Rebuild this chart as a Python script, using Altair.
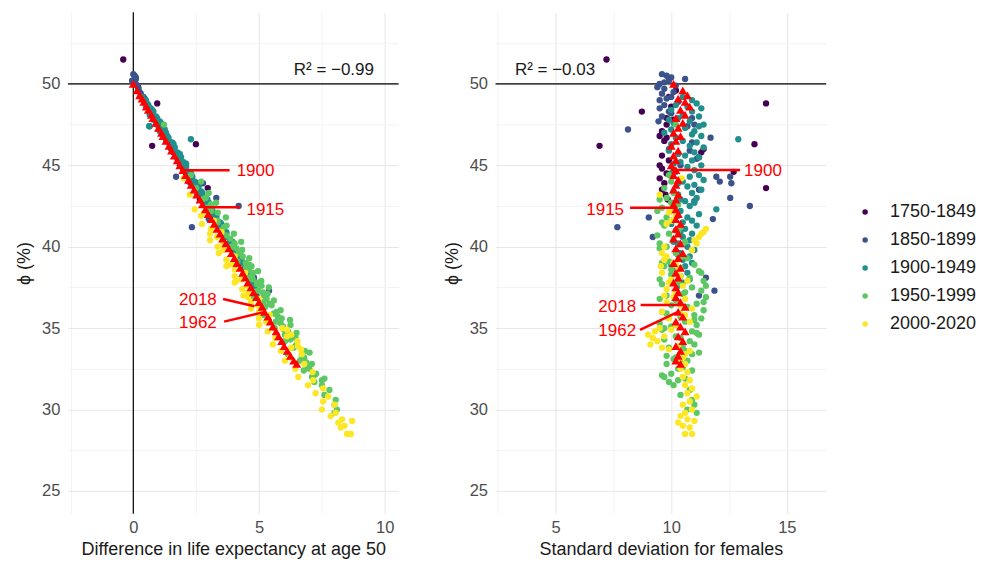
import altair as alt
import pandas as pd

periods = ["1750-1849", "1850-1899", "1900-1949", "1950-1999", "2000-2020"]
colors = ["#440154", "#3b528b", "#21908c", "#5dc863", "#fde725"]

# ---- 1750-1849 ----
p1_phi = [51.5, 48.8, 46.2, 46.3, 43.6, 48.3, 44.6, 49.6, 49.2, 48.6, 47.9, 47.5, 47.1, 46.8, 46.5,
          46.0, 45.8, 45.6, 45.3, 45.0, 44.8, 44.5, 44.2, 43.9, 43.5, 43.2, 42.9, 46.7, 45.5, 47.8]
p1_diff = [-0.4, 0.95, 0.75, 2.49, 2.96, 0.78, 2.05, 0.2, 0.35, 0.6, 0.85, 0.95, 1.15, 1.25, 1.4,
           1.55, 1.6, 1.7, 1.85, 1.9, 2.0, 2.1, 2.2, 2.3, 2.45, 2.55, 2.65, 1.3, 1.75, 0.9]
p1_sd = [7.2, 14.1, 6.9, 13.6, 14.1, 8.73, 12.7, 10.2, 9.9, 10.0, 9.8, 9.8, 9.6, 9.5, 9.7,
         11.4, 11.3, 9.6, 9.9, 9.5, 9.6, 9.8, 9.5, 9.7, 9.6, 9.75, 9.85, 9.8, 11.2, 10.1]

# ---- 1850-1899 ----
p2_phi = [50.6, 50.5, 50.4, 50.3, 50.2, 50.0, 49.9, 49.7, 49.4, 49.2, 49.0, 48.7, 48.3, 47.9, 47.5,
          47.2, 46.7, 47.4, 46.4, 45.9, 45.4, 44.3, 44.0, 44.3, 43.9, 43.0, 42.5, 41.7, 41.8, 40.6,
          41.2, 37.3, 37.0, 38.1, 45.0, 43.5, 42.8, 48.0, 46.0, 44.7, 50.1, 49.8, 49.5, 49.1, 48.9,
          48.5, 48.2, 47.7]
p2_diff = [0.0, 0.05, 0.1, 0.1, -0.05, 0.1, 0.15, 0.2, 0.3, 0.4, 0.45, 0.55, 0.7, 0.85, 1.0,
           1.1, 1.3, 0.65, 1.4, 1.6, 1.75, 1.7, 2.2, 2.3, 2.77, 3.3, 4.19, 3.0, 3.2, 3.6,
           2.33, 5.4, 4.9, 4.8, 1.85, 2.5, 2.75, 0.8, 1.5, 2.0, 0.05, 0.2, 0.25, 0.45, 0.5,
           0.6, 0.75, 0.9]
p2_sd = [9.6, 9.8, 10.0, 10.6, 9.9, 9.5, 10.2, 9.7, 9.6, 10.0, 9.5, 9.7, 9.9, 10.9, 11.0,
         8.13, 11.7, 10.7, 10.9, 10.8, 11.1, 11.95, 12.1, 12.55, 12.6, 12.55, 13.4, 11.8, 9.03, 9.2,
         7.67, 11.87, 11.2, 11.5, 10.4, 11.2, 11.0, 9.6, 9.9, 10.1, 9.7, 9.4, 10.1, 9.8, 10.3,
         9.5, 10.0, 9.45]

# ---- 1900-1949 ----
p3_phi = [49.2, 49.0, 48.8, 48.6, 48.5, 48.3, 48.1, 48.0, 47.8, 47.7, 47.5, 47.4, 47.3, 47.1, 47.0,
          46.9, 46.8, 46.6, 46.5, 46.4, 46.2, 46.1, 45.9, 45.8, 45.6, 45.5, 45.3, 45.2, 45.0, 44.9,
          44.7, 44.6, 44.4, 44.3, 44.1, 44.0, 43.8, 43.7, 43.5, 43.3, 43.2, 43.0, 42.8, 42.7, 42.5,
          42.3, 42.2, 42.0, 41.8, 41.6, 41.5, 41.3, 41.1, 41.0, 40.8, 40.6, 40.4, 40.2, 40.0, 39.8,
          39.6, 39.4, 39.2, 39.0, 38.8, 38.6, 38.4, 38.2, 38.0, 37.8, 37.6,
          48.7, 48.4, 47.9, 47.6, 47.2, 46.7, 46.3, 45.7, 45.1, 44.5, 43.9, 43.4, 42.9, 42.4, 41.9,
          41.4, 40.9, 40.3, 39.5, 38.9]
p3_diff = [0.35, 0.5, 0.55, 0.5, 0.7, 0.8, 0.65, 0.9, 0.8, 1.05, 0.95, 0.63, 1.15, 1.05, 1.3,
           1.2, 1.35, 2.29, 1.3, 1.55, 1.45, 1.65, 1.55, 1.75, 1.7, 1.9, 1.8, 2.0, 1.95, 2.1,
           2.05, 2.25, 2.2, 2.35, 2.3, 2.45, 2.4, 2.6, 2.55, 2.75, 2.65, 2.85, 2.8, 3.0, 2.95,
           3.0, 3.15, 3.1, 3.3, 3.25, 3.45, 3.4, 3.6, 3.5, 3.7, 3.65, 3.85, 3.8, 4.0, 3.95,
           4.15, 4.1, 4.3, 4.25, 4.45, 4.4, 4.6, 4.55, 4.75, 4.7, 4.85,
           0.6, 0.75, 0.95, 1.1, 1.25, 1.4, 1.6, 1.85, 2.1, 2.3, 2.55, 2.7, 2.95, 3.1, 3.3,
           3.5, 3.7, 3.95, 4.25, 4.5]
p3_sd = [10.5, 10.9, 11.1, 10.7, 11.3, 10.9, 10.5, 11.2, 9.9, 10.8, 11.4, 11.2, 10.6, 11.0, 9.7,
         10.9, 11.3, 12.9, 10.5, 11.1, 10.8, 11.4, 9.9, 11.0, 10.6, 11.2, 10.9, 10.4, 11.3, 10.7,
         11.0, 10.2, 11.2, 10.8, 11.4, 10.5, 11.0, 10.7, 11.3, 10.9, 10.3, 11.1, 10.6, 11.0, 10.8,
         11.95, 10.4, 11.2, 10.7, 10.9, 10.5, 11.1, 10.6, 10.2, 10.9, 10.5, 10.8, 10.3, 10.7, 11.0,
         10.4, 10.8, 10.5, 10.9, 10.6, 10.2, 10.7, 10.4, 10.8, 10.5, 10.3,
         10.2, 10.0, 10.3, 10.1, 10.0, 10.2, 10.0, 10.3, 10.1, 10.0, 10.3, 10.1, 10.4, 10.1, 10.3,
         10.0, 10.4, 10.1, 10.3, 10.0]

# ---- 1950-1999 ----
p4_phi = [47.5, 44.4, 44.0, 43.6, 43.3, 43.0, 42.7, 42.4, 42.1, 41.8, 41.6, 41.3, 41.0, 40.8, 40.5,
          40.3, 40.0, 39.8, 39.6, 39.3, 39.1, 38.9, 38.7, 38.5, 38.3, 38.1, 37.9, 37.7, 37.5, 37.3,
          37.1, 36.9, 36.7, 36.5, 36.3, 36.1, 35.9, 35.8, 35.6, 35.4, 35.2, 35.0, 34.8, 34.6, 34.4,
          34.2, 34.0, 33.8, 33.6, 33.4, 33.2, 33.0, 32.8, 32.6, 32.4, 32.2, 32.0, 31.8, 31.7, 31.9,
          31.5, 31.2, 30.9, 30.6, 30.3, 30.0, 29.8, 40.2, 39.0, 38.0, 37.0, 36.0, 35.3, 34.3, 33.3,
          36.6, 37.6, 38.4, 35.5, 34.7, 33.5, 32.9, 42.6, 41.2,
          42.9, 42.2, 41.5, 40.7, 39.9, 39.4, 38.6, 37.8, 37.2, 36.4, 35.7, 35.1, 34.5, 33.9, 33.1,
          32.5, 32.1, 36.8, 38.8, 34.9]
p4_diff = [1.22, 2.3, 2.7, 2.5, 3.0, 2.88, 3.29, 2.9, 3.36, 3.68, 3.35, 3.71, 3.48, 4.0, 3.86,
           4.29, 3.9, 4.33, 4.2, 4.61, 4.14, 4.61, 4.49, 4.96, 4.74, 4.56, 5.09, 4.91, 5.39, 4.96,
           5.34, 4.81, 5.59, 5.41, 5.24, 5.86, 5.59, 5.17, 5.9, 5.67, 6.25, 5.62, 6.15, 6.03, 6.45,
           6.03, 6.5, 6.38, 6.82, 6.15, 6.79, 6.63, 7.1, 6.95, 6.78, 7.27, 7.11, 7.5, 7.2, 7.6,
           7.5, 7.8, 7.6, 8.05, 8.0, 8.1, 8.0, 4.03, 4.47, 4.75, 5.18, 5.7, 5.86, 6.24, 6.7,
           5.17, 5.1, 4.75, 6.23, 6.49, 7.01, 6.87, 3.08, 3.6,
           2.75, 3.1, 3.35, 3.7, 4.1, 4.35, 4.6, 4.95, 5.15, 5.5, 5.75, 5.95, 6.2, 6.45, 6.8,
           7.0, 7.2, 5.3, 4.7, 6.0]
p4_sd = [10.2, 9.9, 10.0, 9.7, 10.1, 9.8, 10.0, 9.6, 10.2, 9.8, 10.0, 9.7, 10.3, 9.9, 10.1,
         10.6, 9.8, 10.9, 10.2, 10.7, 9.9, 11.0, 10.4, 11.2, 10.0, 10.8, 11.4, 9.6, 10.9, 11.3,
         10.5, 11.5, 10.2, 11.1, 10.7, 11.4, 9.8, 11.0, 11.3, 10.6, 11.1, 9.7, 10.9, 11.2, 10.4,
         10.8, 11.0, 9.9, 10.6, 10.9, 10.2, 10.7, 9.8, 10.5, 10.9, 10.0, 9.7, 10.3, 9.9, 10.6,
         10.1, 10.8, 10.4, 10.9, 11.0, 10.7, 11.1, 9.5, 9.6, 9.5, 9.8, 9.6, 9.5, 9.7, 9.8,
         11.4, 11.5, 11.3, 11.0, 11.1, 11.2, 10.4, 10.3, 10.4,
         9.5, 9.4, 9.6, 9.4, 9.5, 10.5, 10.0, 10.3, 10.6, 10.0, 10.4, 10.0, 10.2, 10.5, 10.1,
         10.3, 9.6, 9.5, 9.7, 9.6]

# ---- 2000-2020 ----
p5_phi = [44.2, 43.2, 42.3, 42.1, 41.9, 41.6, 41.4, 41.1, 40.9, 40.8, 40.6, 40.4, 40.2, 40.0, 39.8,
          39.6, 39.4, 39.2, 39.0, 38.8, 38.6, 38.4, 38.2, 38.0, 37.8, 37.6, 37.4, 37.2, 37.0, 36.8,
          36.6, 36.4, 36.2, 36.0, 35.8, 35.6, 35.4, 35.2, 35.0, 34.8, 34.6, 34.4, 34.2, 34.0, 33.8,
          33.6, 33.4, 33.2, 33.0, 32.8, 32.5, 32.3, 32.0, 31.8, 31.5, 31.3, 31.0, 30.8, 30.5, 30.3,
          30.0, 29.8, 29.6, 29.4, 29.2, 29.3, 29.0, 28.9, 28.5, 28.5, 34.9, 33.9, 35.9, 36.9, 37.9,
          38.9, 34.5, 33.7]
p5_diff = [2.0, 2.25, 2.44, 2.81, 2.69, 3.2, 2.73, 3.09, 3.51, 3.05, 3.33, 3.05, 3.58, 3.35, 3.58,
           3.4, 4.03, 3.7, 3.97, 3.7, 4.03, 4.45, 4.03, 4.3, 4.03, 4.55, 4.33, 4.55, 4.38, 5.0,
           4.68, 4.95, 4.68, 5.0, 5.43, 5.0, 5.28, 5.0, 5.92, 5.35, 6.28, 5.65, 6.53, 5.55, 6.28,
           5.87, 6.7, 6.24, 6.03, 6.8, 6.44, 7.13, 6.56, 7.15, 6.95, 7.55, 7.25, 7.75, 7.55, 8.0,
           7.5, 8.05, 7.85, 8.3, 8.15, 8.7, 8.4, 8.25, 8.5, 8.65, 6.11, 6.54, 4.99, 4.56, 4.09,
           3.81, 6.11, 6.67]
p5_sd = [10.45, 9.5, 10.0, 9.9, 10.2, 10.0, 9.8, 11.5, 11.4, 11.3, 11.2, 11.0, 11.1, 9.7, 10.9,
         9.6, 9.8, 9.7, 10.1, 9.55, 10.3, 9.6, 10.4, 10.0, 9.9, 10.5, 9.8, 10.2, 9.7, 10.6,
         9.8, 10.4, 10.9, 9.6, 10.6, 9.9, 10.8, 10.2, 9.5, 9.3, 9.0, 9.2, 9.4, 9.1, 9.6,
         10.8, 10.6, 10.5, 10.3, 10.6, 10.4, 10.7, 10.5, 10.8, 10.6, 10.9, 10.7, 11.1, 10.8, 10.5,
         10.9, 10.6, 10.4, 10.7, 10.3, 11.0, 10.5, 10.8, 10.6, 10.9, 10.0, 10.3, 10.4, 10.1, 10.7,
         10.2, 9.7, 9.9]

# ---- highlighted country (red triangles) ----
red_phi = [50.0, 49.6, 49.3, 49.1, 48.9, 48.6, 48.4, 48.1, 47.9, 47.6, 47.3, 47.0, 46.8, 46.5, 46.2,
           45.9, 45.6, 45.3, 45.0, 44.7, 44.4, 44.1, 43.8, 43.5, 43.2, 42.9, 42.6, 42.3, 42.0, 41.7,
           41.4, 41.1, 40.8, 40.5, 40.2, 39.9, 39.6, 39.3, 39.0, 38.7, 38.4, 38.1, 37.8, 37.5, 37.2,
           36.9, 36.6, 36.3, 36.0, 35.7, 35.4, 35.1, 34.8, 34.5, 34.2, 33.9, 33.6, 33.3, 33.0, 32.8]
red_diff = [0.0, 0.15, 0.25, 0.35, 0.42, 0.52, 0.6, 0.72, 0.78, 0.9, 1.0, 1.12, 1.18, 1.3, 1.42,
            1.52, 1.63, 1.75, 1.85, 1.97, 2.08, 2.2, 2.3, 2.42, 2.52, 2.65, 2.75, 2.87, 2.98, 3.1,
            3.22, 3.33, 3.45, 3.55, 3.68, 3.8, 3.9, 4.02, 4.12, 4.25, 4.35, 4.45, 4.55, 4.68, 4.78,
            4.9, 5.0, 5.12, 5.22, 5.35, 5.45, 5.55, 5.68, 5.78, 5.9, 6.0, 6.12, 6.25, 6.38, 6.5]
red_sd = [10.1, 10.5, 10.7, 10.3, 10.6, 10.8, 10.4, 10.6, 10.2, 10.5, 10.3, 10.1, 10.4, 10.2, 10.0,
          10.3, 10.1, 10.2, 10.0, 10.2, 10.1, 10.3, 10.2, 10.1, 10.3, 10.2, 10.1, 10.2, 10.3, 10.2,
          10.4, 10.2, 10.3, 10.1, 10.4, 10.2, 10.5, 10.3, 10.1, 10.4, 10.2, 10.3, 10.1, 10.2, 10.3,
          10.2, 10.4, 10.6, 10.3, 10.5, 10.2, 10.4, 10.6, 10.3, 10.5, 10.2, 10.4, 10.3, 10.2, 10.4]

# ---- year labels (data coordinates) ----
lab_years = ["1900", "1915", "2018", "1962"]
L_lab_x = [4.11, 4.5, 3.32, 3.32]
L_lab_y = [44.66, 42.27, 36.75, 35.34]
L_lab_align = ["left", "left", "right", "right"]
L_seg_x = [1.86, 2.81, 3.57, 3.61]
L_seg_x2 = [3.83, 4.23, 4.82, 5.14]
L_seg_y = [44.7, 42.42, 36.79, 35.4]
L_seg_y2 = [44.7, 42.42, 36.34, 35.97]

R_lab_x = [13.15, 7.96, 8.48, 8.48]
R_lab_y = [44.66, 42.27, 36.28, 34.85]
R_lab_align = ["left", "right", "right", "right"]
R_seg_x = [10.02, 8.22, 8.68, 8.65]
R_seg_x2 = [12.98, 10.15, 10.61, 10.25]
R_seg_y = [44.72, 42.4, 36.42, 34.89]
R_seg_y2 = [44.72, 42.4, 36.42, 35.97]

r2_text = ["R² = −0.99", "R² = −0.03"]
r2_x = [9.57, 3.24]
r2_y = [50.83, 50.86]

# ---------------- build tables ----------------
rows = []
for per, ph, df_, sd_ in zip(periods,
                             [p1_phi, p2_phi, p3_phi, p4_phi, p5_phi],
                             [p1_diff, p2_diff, p3_diff, p4_diff, p5_diff],
                             [p1_sd, p2_sd, p3_sd, p4_sd, p5_sd]):
    for a, b, c in zip(ph, df_, sd_):
        rows.append({"period": per, "phi": a, "diff": b, "sd": c})
pts = pd.DataFrame(rows)
red = pd.DataFrame({"phi": red_phi, "diff": red_diff, "sd": red_sd})

FONT = "Liberation Sans"
ydom = [23.6, 54.4]
yvals = [25 + 2.5 * i for i in range(12)]
grid_color = {"condition": {"test": "datum.value % 5 === 0", "value": "#e6e6e6"}, "value": "#f3f3f3"}


def yaxis():
    return alt.Axis(values=yvals, labelExpr="datum.value % 5 === 0 ? datum.label : ''",
                    gridColor=grid_color, title="ϕ (%)", titlePadding=8, labelPadding=8)


def xaxis(vals, title):
    return alt.Axis(values=vals, labelExpr="datum.value % 5 === 0 ? datum.label : ''",
                    gridColor=grid_color, title=title, labelPadding=6, titlePadding=4)


def panel(xfield, xdom, xvals, xtitle, lab_x, lab_y, lab_align, sx, sx2, sy, sy2, r2i, r2align, vline):
    X = alt.X(f"{xfield}:Q", scale=alt.Scale(domain=xdom, nice=False, zero=False), axis=xaxis(xvals, xtitle))
    Y = alt.Y("phi:Q", scale=alt.Scale(domain=ydom, nice=False, zero=False), axis=yaxis())
    layers = []
    hl = alt.Chart(pd.DataFrame({"phi": [50.0]})).mark_rule(color="black", strokeWidth=1.2).encode(y="phi:Q")
    layers.append(hl)
    if vline:
        vl = alt.Chart(pd.DataFrame({xfield: [0.0]})).mark_rule(color="black", strokeWidth=1.2).encode(x=f"{xfield}:Q")
        layers.append(vl)
    sc = alt.Chart(pts).mark_circle(size=40, opacity=1).encode(
        x=X, y=Y,
        color=alt.Color("period:N", scale=alt.Scale(domain=periods, range=colors), title=None,
                        legend=alt.Legend(orient="none", legendX=789, legendY=191,
                                          symbolType="circle", symbolSize=30,
                                          labelFontSize=18, labelColor="#1a1a1a",
                                          rowPadding=10, labelOffset=16, padding=0)))
    layers.append(sc)
    tri = alt.Chart(red).mark_point(shape="triangle-up", filled=True, color="#ff0000", size=80, opacity=1).encode(
        x=alt.X(f"{xfield}:Q"), y="phi:Q")
    layers.append(tri)
    seg = alt.Chart(pd.DataFrame({"x": sx, "x2": sx2, "y": sy, "y2": sy2})).mark_rule(
        color="#ff0000", strokeWidth=2.5).encode(x="x:Q", x2="x2", y="y:Q", y2="y2")
    layers.append(seg)
    lab = pd.DataFrame({"t": lab_years, "x": lab_x, "y": lab_y, "a": lab_align})
    for al in ["left", "right"]:
        layers.append(alt.Chart(lab[lab["a"] == al]).mark_text(
            color="#ff0000", fontSize=17, font=FONT, align=al, baseline="middle").encode(
            x="x:Q", y="y:Q", text="t:N"))
    r2 = pd.DataFrame({"t": [r2_text[r2i]], "x": [r2_x[r2i]], "y": [r2_y[r2i]]})
    layers.append(alt.Chart(r2).mark_text(color="#1a1a1a", fontSize=17, font=FONT, align=r2align,
                                          baseline="middle").encode(x="x:Q", y="y:Q", text="t:N"))
    return alt.layer(*layers).properties(width=331, height=502)


left = panel("diff", [-2.6, 10.55], [-2.5, 0, 2.5, 5, 7.5, 10], "Difference in life expectancy at age 50",
             L_lab_x, L_lab_y, L_lab_align, L_seg_x, L_seg_x2, L_seg_y, L_seg_y2, 0, "right", True)
right = panel("sd", [2.4, 16.7], [2.5, 5, 7.5, 10, 12.5, 15], "Standard deviation for females",
              R_lab_x, R_lab_y, R_lab_align, R_seg_x, R_seg_x2, R_seg_y, R_seg_y2, 1, "left", False)

chart = alt.hconcat(left, right, spacing=43).resolve_scale(color="shared").properties(
    padding={"left": 15, "top": 11, "right": 5, "bottom": 5}
).configure_view(stroke=None).configure_axis(
    domain=False, ticks=False, labelFont=FONT, titleFont=FONT, labelFontSize=16.5, titleFontSize=18,
    labelColor="#4d4d4d", titleColor="#1a1a1a", titleFontWeight="normal", gridWidth=1
).configure_legend(labelFont=FONT)

chart.save("out.html", embed_options={"renderer": "svg", "actions": False})
